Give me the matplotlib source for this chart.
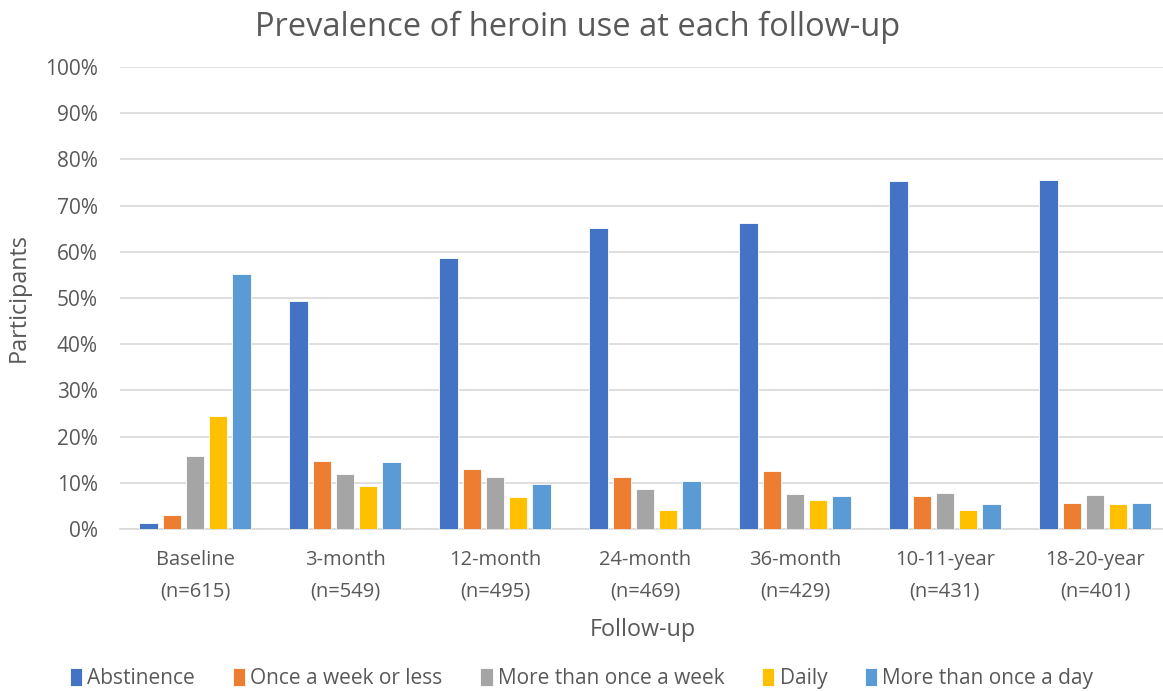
import matplotlib
matplotlib.use("Agg")
import matplotlib.pyplot as plt
import numpy as np
from matplotlib.ticker import PercentFormatter

categories = ["Baseline\n(n=615)", "3-month\n(n=549)", "12-month\n(n=495)", "24-month\n(n=469)",
              "36-month\n(n=429)", "10-11-year\n(n=431)", "18-20-year\n(n=401)"]
series_names = ["Abstinence", "Once a week or less", "More than once a week", "Daily", "More than once a day"]
abstinence = [1.2, 49.3, 58.7, 65.2, 66.2, 75.3, 75.6]
once_week_or_less = [3.0, 14.7, 13.0, 11.2, 12.5, 7.1, 5.6]
more_than_once_week = [15.8, 12.0, 11.2, 8.7, 7.6, 7.9, 7.4]
daily = [24.4, 9.2, 6.9, 4.1, 6.3, 4.1, 5.4]
more_than_once_day = [55.1, 14.5, 9.8, 10.4, 7.1, 5.4, 5.6]
colors = ["#4472C4", "#ED7D31", "#A5A5A5", "#FFC000", "#5B9BD5"]

plt.rcParams['font.family'] = ['Open Sans', 'DejaVu Sans']
text_color = "#595959"

fig = plt.figure(figsize=(11.63, 6.91), dpi=100)
ax = fig.add_axes([120/1163, (691-529)/691, 1045/1163, (529-67)/691])

data = [abstinence, once_week_or_less, more_than_once_week, daily, more_than_once_day]
x = np.arange(len(categories))
pitch = 0.155
width = 0.122
for i, (vals, c, name) in enumerate(zip(data, colors, series_names)):
    ax.bar(x + (i - 2) * pitch, vals, width=width, color=c, label=name,
           edgecolor="white", linewidth=0.6, zorder=3)

ax.set_xlim(-0.5, 6.467)
ax.set_ylim(0, 100)
ax.set_yticks(np.arange(0, 101, 10))
ax.yaxis.set_major_formatter(PercentFormatter(decimals=0))
ax.grid(axis="y", color="#D9D9D9", linewidth=1.2, zorder=0)
ax.set_axisbelow(True)
for s in ["top", "right", "left"]:
    ax.spines[s].set_visible(False)
ax.spines["bottom"].set_color("#D9D9D9")
ax.spines["bottom"].set_linewidth(1.2)
ax.tick_params(axis="both", length=0, colors=text_color)
ax.tick_params(axis="x", pad=15, labelsize=14.5)
ax.tick_params(axis="y", pad=16, labelsize=15)
ax.set_xticks(x)
ax.set_xticklabels(categories, linespacing=1.75)

ax.set_ylabel("Participants", fontsize=16.8, color=text_color, labelpad=10)
ax.set_xlabel("Follow-up", fontsize=16.8, color=text_color, labelpad=12)
fig.text(0.497, 0.961, "Prevalence of heroin use at each follow-up", ha="center", va="center",
         fontsize=23.5, color=text_color)

leg = fig.legend(loc="center", bbox_to_anchor=(0.5, 0.018), ncol=5, frameon=False,
                 fontsize=15, handlelength=0.6, handleheight=0.9, handletextpad=0.25,
                 columnspacing=1.8)
for t in leg.get_texts():
    t.set_color(text_color)

fig.savefig("out.png", dpi=100)
